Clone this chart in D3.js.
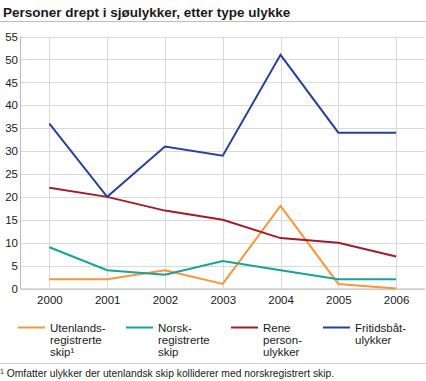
<!DOCTYPE html>
<html><head><meta charset="utf-8">
<script src="https://cdn.jsdelivr.net/npm/d3@7"></script>
<style>body{margin:0;background:#fff;} svg{display:block;font-family:Arial,"Liberation Sans",sans-serif;}</style>
</head><body>
<svg id="c" width="426" height="381"></svg>
<script>
const years = ["2000","2001","2002","2003","2004","2005","2006"];
const utenlands = [2, 2, 4, 1, 18, 1, 0];
const norsk = [9, 4, 3, 6, 4, 2, 2];
const rene = [22, 20, 17, 15, 11, 10, 7];
const fritid = [36, 20, 31, 29, 51, 34, 34];
const yTicks = [0,5,10,15,20,25,30,35,40,45,50,55];
const seriesNames = [["Utenlands-","registrerte","skip¹"],["Norsk-","registrerte","skip"],["Rene","person-","ulykker"],["Fritidsbåt-","ulykker"]];
const colors = ["#f7963a","#17a29c","#a11c2b","#27419a"];
const series = [utenlands, norsk, rene, fritid];

const svg = d3.select("#c");
const L = 20.5, R = 425, T = 36.5, B = 288.5;
const x = d3.scalePoint().domain(years).range([L, R]).padding(0.5);
const y = d3.scaleLinear().domain([0,55]).range([B, T]);

svg.append("text").attr("x",3).attr("y",17).attr("font-size",13.5).attr("font-weight","bold").attr("fill","#1a1a1a").text("Personer drept i sjøulykker, etter type ulykke");
svg.append("line").attr("x1",0).attr("x2",426).attr("y1",21.5).attr("y2",21.5).attr("stroke","#bdbdbd").attr("stroke-width",1);

// grid
const g = svg.append("g");
g.selectAll(".hg").data(yTicks).join("line").attr("x1",L).attr("x2",R).attr("y1",d=>Math.round(y(d))+0.5).attr("y2",d=>Math.round(y(d))+0.5).attr("stroke","#d9d9d9");
g.selectAll(".vg").data(years).join("line").attr("x1",d=>Math.round(x(d))+0.5).attr("x2",d=>Math.round(x(d))+0.5).attr("y1",T).attr("y2",B).attr("stroke","#d9d9d9");
g.append("line").attr("x1",L).attr("x2",L).attr("y1",T).attr("y2",B).attr("stroke","#bbbbbb");
g.append("line").attr("x1",L).attr("x2",R).attr("y1",B+0.5).attr("y2",B+0.5).attr("stroke","#bbbbbb");

// axes labels
const ya = d3.axisLeft(y).tickValues(yTicks).tickSize(0).tickPadding(4);
svg.append("g").attr("transform",`translate(${L},0)`).call(ya).call(s=>s.select(".domain").remove())
  .selectAll("text").attr("font-size",11.5).attr("fill","#1a1a1a").attr("font-family","Arial,'Liberation Sans',sans-serif").attr("x",-2.5);
const xa = d3.axisBottom(x).tickSize(0).tickPadding(7);
svg.append("g").attr("transform",`translate(0,${B})`).call(xa).call(s=>s.select(".domain").remove())
  .selectAll("text").attr("font-size",11.5).attr("fill","#1a1a1a").attr("font-family","Arial,'Liberation Sans',sans-serif");

// lines
const line = d3.line().x((d,i)=>x(years[i])).y(d=>y(d));
series.forEach((s,i)=>{
  svg.append("path").datum(s).attr("d",line).attr("fill","none").attr("stroke",colors[i]).attr("stroke-width",2).attr("stroke-linejoin","miter");
});

// legend
const lx = [20,128,233,325];
seriesNames.forEach((names,i)=>{
  svg.append("line").attr("x1",lx[i]-2).attr("x2",lx[i]+25).attr("y1",327.5).attr("y2",327.5).attr("stroke",colors[i]).attr("stroke-width",2);
  const t = svg.append("text").attr("font-size",11.5).attr("fill","#1a1a1a");
  names.forEach((n,j)=>{
    t.append("tspan").attr("x",lx[i]+30).attr("y",332+j*11.8).text(n);
  });
});

svg.append("line").attr("x1",0).attr("x2",426).attr("y1",363.5).attr("y2",363.5).attr("stroke","#cccccc");
const fn = svg.append("text").attr("x",0).attr("y",377).attr("font-size",10.3).attr("fill","#1a1a1a");
fn.append("tspan").attr("font-size",7).attr("dy",-3).text("1");
fn.append("tspan").attr("dy",3).text(" Omfatter ulykker der utenlandsk skip kolliderer med norskregistrert skip.");
</script>
</body></html>
